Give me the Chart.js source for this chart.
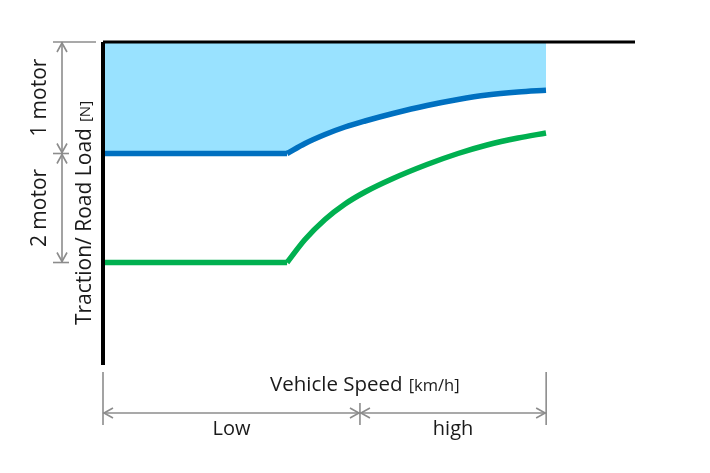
<!DOCTYPE html>
<html>
<head>
<meta charset="utf-8">
<script src="https://cdn.jsdelivr.net/npm/chart.js@4"></script>
<style>
  html, body { margin: 0; padding: 0; background: #fff; }
</style>
</head>
<body>
<canvas id="chart" width="710" height="473"></canvas>
<script>
// Speed axis runs 0..100, load axis runs 0..100 (relative units)
const speedFlat = [0, 34.6];
const speedCurve = [34.6, 37.97, 41.73, 45.49, 49.25, 54.51, 60.9, 66.73, 72.18, 78.01, 83.27];
const oneMotorFlat = [65.48, 65.48];
const oneMotorCurve = [65.48, 68.58, 71.36, 73.68, 75.54, 77.86, 80.34, 82.2, 83.59, 84.52, 85.05];
const twoMotorFlat = [31.73, 31.73];
const twoMotorCurve = [31.73, 38.85, 45.05, 49.85, 53.56, 57.74, 62.07, 65.48, 68.11, 70.28, 71.83];
const speedMax = 100;
const loadMax = 100;
const lowHighSplit = 48.3;
const speedEnd = 83.3;

function pts(xs, ys) {
  return xs.map(function (x, i) { return { x: x, y: ys[i] }; });
}

const BLUE = "#0070c0";
const GREEN = "#00b050";
const FILL = "#99e2ff";
const GREY = "#8c8c8c";
const TEXT = "#1a1a1a";
const FONT = "'Open Sans', 'Noto Sans', sans-serif";

// Draws dimension arrows and labels around the plot
const annotations = {
  id: "annotations",
  afterDraw(chart) {
    const ctx = chart.ctx;
    const x = chart.scales.x;
    const y = chart.scales.y;
    const x0 = x.getPixelForValue(0);
    const xSplit = x.getPixelForValue(lowHighSplit);
    const xEnd = x.getPixelForValue(speedEnd);
    const yTop = y.getPixelForValue(loadMax);
    const yMid = y.getPixelForValue(oneMotorFlat[0]);
    const yLow = y.getPixelForValue(twoMotorFlat[0]);
    const yBottom = y.getPixelForValue(0);

    function line(ax, ay, bx, by) {
      ctx.beginPath();
      ctx.moveTo(ax, ay);
      ctx.lineTo(bx, by);
      ctx.stroke();
    }
    // open arrow head at (px,py) pointing in direction (dx,dy)
    function head(px, py, dx, dy) {
      const len = 9, half = 5;
      const nx = -dy, ny = dx;
      ctx.beginPath();
      ctx.moveTo(px - dx * len + nx * half, py - dy * len + ny * half);
      ctx.lineTo(px, py);
      ctx.lineTo(px - dx * len - nx * half, py - dy * len - ny * half);
      ctx.stroke();
    }

    ctx.save();
    ctx.strokeStyle = GREY;
    ctx.lineWidth = 1.6;
    ctx.lineCap = "butt";

    // left dimension (1 motor / 2 motor)
    const dx = x0 - 41;
    line(x0 - 50, yTop, x0 - 7, yTop);
    line(dx - 9, yMid, dx + 7, yMid);
    line(dx - 9, yLow, dx + 7, yLow);
    line(dx, yTop, dx, yLow);
    head(dx, yTop + 1, 0, -1);
    head(dx, yMid - 1, 0, 1);
    head(dx, yMid + 1, 0, -1);
    head(dx, yLow - 1, 0, 1);

    // bottom dimension (Low / high)
    const yArrow = yBottom + 48;
    line(x0, yBottom + 7, x0, yBottom + 60);
    line(xSplit, yBottom + 38, xSplit, yBottom + 60);
    line(xEnd, yBottom + 7, xEnd, yBottom + 60);
    line(x0, yArrow, xEnd, yArrow);
    head(x0 + 1, yArrow, -1, 0);
    head(xSplit - 1, yArrow, 1, 0);
    head(xSplit + 1, yArrow, -1, 0);
    head(xEnd - 1, yArrow, 1, 0);

    // texts
    ctx.fillStyle = TEXT;
    ctx.textBaseline = "middle";
    ctx.font = "20px " + FONT;
    ctx.textAlign = "center";
    ctx.fillText("Low", (x0 + xSplit) / 2, yArrow + 16);
    ctx.fillText("high", (xSplit + xEnd) / 2, yArrow + 16);

    ctx.textAlign = "left";
    const vsX = x0 + 167;
    ctx.font = "20.5px " + FONT;
    ctx.fillText("Vehicle Speed", vsX, yBottom + 20);
    const w = ctx.measureText("Vehicle Speed").width;
    ctx.font = "16.5px " + FONT;
    ctx.fillText("[km/h]", vsX + w + 6, yBottom + 21);

    // rotated labels
    function rotated(cx, cy, draw) {
      ctx.save();
      ctx.translate(cx, cy);
      ctx.rotate(-Math.PI / 2);
      draw();
      ctx.restore();
    }
    ctx.textAlign = "center";
    ctx.font = "21px " + FONT;
    rotated(x0 - 63, (yTop + yMid) / 2, function () { ctx.fillText("1 motor", 0, 0); });
    rotated(x0 - 63, (yMid + yLow) / 2, function () { ctx.fillText("2 motor", 0, 0); });
    rotated(x0 - 18, yTop + 171, function () {
      ctx.font = "21px " + FONT;
      const main = "Traction/ Road Load";
      const mw = ctx.measureText(main).width;
      ctx.font = "15px " + FONT;
      const sw = ctx.measureText("[N]").width;
      const total = mw + 6 + sw;
      ctx.textAlign = "left";
      ctx.font = "21px " + FONT;
      ctx.fillText(main, -total / 2, 0);
      ctx.font = "15px " + FONT;
      ctx.fillText("[N]", -total / 2 + mw + 6, 1);
    });
    ctx.restore();
  }
};

const ctx = document.getElementById("chart").getContext("2d");
new Chart(ctx, {
  type: "line",
  data: {
    datasets: [
      {
        // top boundary
        data: pts([0, speedMax], [loadMax, loadMax]),
        borderColor: "#000",
        borderWidth: 3,
        clip: false,
        fill: false,
      },
      {
        // vertical axis
        data: pts([0, 0], [0, loadMax]),
        borderColor: "#000",
        borderWidth: 4,
        clip: false,
        fill: false,
      },
      {
        data: pts(speedFlat, oneMotorFlat),
        borderColor: BLUE,
        borderWidth: 5.5,
        fill: false,
        clip: false,
      },
      {
        data: pts(speedCurve, oneMotorCurve),
        borderColor: BLUE,
        borderWidth: 5.5,
        fill: false,
        cubicInterpolationMode: "monotone",
        clip: false,
      },
      {
        data: pts(speedFlat, twoMotorFlat),
        borderColor: GREEN,
        borderWidth: 5.5,
        fill: false,
        clip: false,
      },
      {
        data: pts(speedCurve, twoMotorCurve),
        borderColor: GREEN,
        borderWidth: 5.5,
        fill: false,
        cubicInterpolationMode: "monotone",
        clip: false,
      },
      {
        // shaded 1-motor region, one shape so there is no seam
        data: pts(speedFlat.concat(speedCurve.slice(1)), oneMotorFlat.concat(oneMotorCurve.slice(1))),
        borderWidth: 0,
        borderColor: "rgba(0,0,0,0)",
        backgroundColor: FILL,
        fill: "end",
        cubicInterpolationMode: "monotone",
        clip: false,
      },
    ],
  },
  options: {
    responsive: false,
    animation: false,
    devicePixelRatio: 1,
    layout: { padding: { left: 103, right: 75, top: 42, bottom: 108 } },
    elements: { point: { radius: 0 }, line: { tension: 0 } },
    scales: {
      x: { type: "linear", min: 0, max: speedMax, display: false },
      y: { type: "linear", min: 0, max: loadMax, display: false },
    },
    plugins: {
      legend: { display: false },
      tooltip: { enabled: false },
    },
  },
  plugins: [annotations],
});
</script>
</body>
</html>
